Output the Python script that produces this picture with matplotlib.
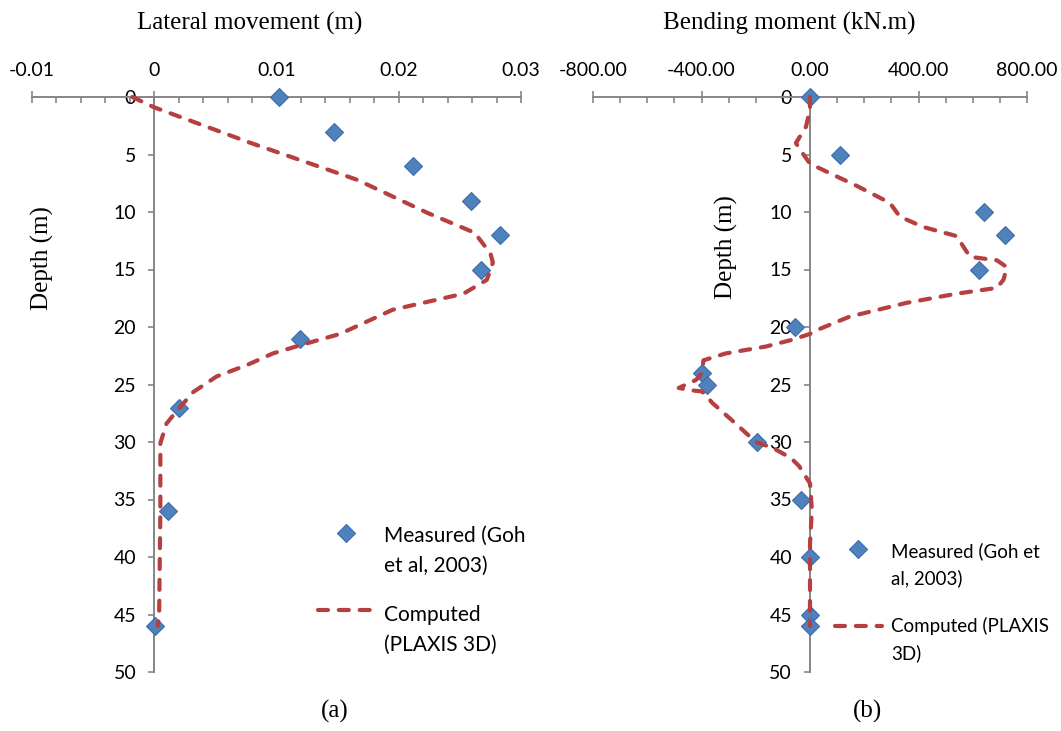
import matplotlib
matplotlib.use('Agg')
import matplotlib.pyplot as plt
from matplotlib.ticker import MultipleLocator
from matplotlib.transforms import Affine2D

# (a) lateral movement
lat_meas_depth = [0, 3, 6, 9, 12, 15, 21, 27, 36, 46]
lat_meas_val = [0.0102, 0.0147, 0.0212, 0.0259, 0.0283, 0.0267, 0.0119, 0.0020, 0.0011, 0.0001]

lat_comp_depth = [0, 0.9, 4.0, 7.2, 10.1, 11.8, 13.6, 14.4, 15.9, 17.1, 18.5, 20.6, 21.6,
                  22.3, 23.3, 24.3, 25.65, 27.1, 28.4, 30.1, 36.0, 45.0, 46.0]
lat_comp_val = [-0.0018, 0.0, 0.0079, 0.0166, 0.0224, 0.0262, 0.0275, 0.0277, 0.0272, 0.0253,
                0.0195, 0.0152, 0.0119, 0.0097, 0.0076, 0.0051, 0.0032, 0.0020, 0.0010,
                0.0005, 0.0005, 0.0004, 0.0003]

# (b) bending moment
bm_meas_depth = [0, 5, 10, 12, 15, 20, 24, 25, 30, 35, 40, 45, 46]
bm_meas_val = [0, 110, 640, 720, 624, -54, -398, -379, -194, -33, 0, 0, 0]

bm_comp_depth = [0, 1.1, 2.6, 4.0, 4.9, 5.8, 6.6, 7.7, 9.2, 10.4, 11.3, 12.1, 13.0, 13.9,
                 14.2, 14.8, 15.9, 16.6, 17.1, 17.9, 19.1, 20.3, 20.6, 21.1, 21.7, 22.3,
                 22.9, 24.0, 24.6, 25.3, 25.5, 25.6, 26.6, 28.4, 30.0, 30.5, 31.4, 32.1,
                 33.6, 35.9, 38.8, 45.0, 46.0]
bm_comp_val = [0, 0, -15, -52, -27, 0, 71, 170, 294, 331, 417, 541, 565, 590,
               689, 726, 713, 689, 541, 356, 146, 22, 0, -64, -163, -311,
               -393, -398, -420, -484, -440, -398, -360, -274, -200, -138, -70, -40,
               0, 7, 0, 0, 0]

xticks_a = [-0.01, 0, 0.01, 0.02, 0.03]
xlabels_a = ['-0.01', '0', '0.01', '0.02', '0.03']
xticks_b = [-800, -400, 0, 400, 800]
xlabels_b = ['-800.00', '-400.00', '0.00', '400.00', '800.00']
yticks = [0, 5, 10, 15, 20, 25, 30, 35, 40, 45, 50]

blue = '#4F81BD'
red = '#B5403F'
grey = '#868686'
sans = 'Lato'
serif = 'Liberation Serif'

W, H = 1061, 731
fig = plt.figure(figsize=(W / 100, H / 100), dpi=100)
ax1 = fig.add_axes([32 / W, 1 - 672 / H, 489 / W, 575 / H])
ax2 = fig.add_axes([593 / W, 1 - 672 / H, 434 / W, 575 / H])


def style(ax, xlim, xticks, xlabels, minor):
    ax.set_xlim(xlim)
    ax.set_ylim(50, 0)
    ax.spines['right'].set_visible(False)
    ax.spines['bottom'].set_visible(False)
    ax.spines['left'].set_position(('data', 0))
    for s in ['top', 'left']:
        ax.spines[s].set_color(grey)
        ax.spines[s].set_linewidth(1.4)
    ax.xaxis.tick_top()
    ax.set_xticks(xticks)
    ax.set_xticklabels(xlabels, fontfamily=sans, fontsize=14)
    ax.xaxis.set_minor_locator(MultipleLocator(minor))
    ax.tick_params(axis='x', which='major', direction='inout', length=8.7, width=1.2,
                   color=grey, pad=8.5)
    ax.tick_params(axis='x', which='minor', direction='in', length=4.3, width=1.2,
                   color=grey)
    ax.set_yticks(yticks)
    ax.set_yticklabels([str(v) for v in yticks], fontfamily=sans, fontsize=14)
    ax.tick_params(axis='y', direction='out', length=4, width=1.2, color=grey, pad=9)
    ax.patch.set_alpha(0)


style(ax1, (-0.01, 0.03), xticks_a, xlabels_a, 0.002)
style(ax2, (-800, 800), xticks_b, xlabels_b, 100)

for ax, md, mv, cd, cv in [(ax1, lat_meas_depth, lat_meas_val, lat_comp_depth, lat_comp_val),
                           (ax2, bm_meas_depth, bm_meas_val, bm_comp_depth, bm_comp_val)]:
    ax.plot(mv, md, linestyle='none', marker='D', markersize=9, color=blue,
            markeredgecolor='#3D6DA8', markeredgewidth=0.8, clip_on=False, zorder=3)
    ax.plot(cv, cd, linestyle='--', dashes=(2.4, 2.6), dash_capstyle='round',
            linewidth=3, color=red, clip_on=False, zorder=4)


def add_legend(ax, labels, x0, y0, size, hlen, spacing, lsp, shifts):
    leg = ax.legend(ax.get_lines(), labels, loc='upper left',
                    bbox_to_anchor=(x0 / W, 1 - y0 / H), bbox_transform=fig.transFigure,
                    frameon=False, borderpad=0, borderaxespad=0, handlelength=hlen,
                    handletextpad=0.5, labelspacing=spacing, numpoints=1,
                    prop={'family': sans, 'size': size})
    for t in leg.get_texts():
        t.set_linespacing(lsp)
    # excel puts the key next to the first line of a wrapped label
    for h, dy in zip(leg.legend_handles, shifts):
        h.set_transform(h.get_transform() + Affine2D().translate(0, dy))
    return leg


add_legend(ax1, ['Measured (Goh\net al, 2003)', 'Computed\n(PLAXIS 3D)'],
           318, 526, 15, 2.65, 1.4, 1.6, [19, 20])
add_legend(ax2, ['Measured (Goh et\nal, 2003)', 'Computed (PLAXIS\n3D)'],
           835, 542, 13.5, 2.5, 1.62, 1.62, [16, 14])

fig.text(250 / W, 1 - 23 / H, 'Lateral movement (m)', fontfamily=serif, fontsize=18,
         ha='center', va='center')
fig.text(789 / W, 1 - 23 / H, 'Bending moment (kN.m)', fontfamily=serif, fontsize=18,
         ha='center', va='center')
fig.text(42 / W, 1 - 258 / H, 'Depth (m)', fontfamily=serif, fontsize=18,
         ha='center', va='center', rotation=90)
fig.text(726 / W, 1 - 247 / H, 'Depth (m)', fontfamily=serif, fontsize=18,
         ha='center', va='center', rotation=90)
fig.text(335 / W, 1 - 711 / H, '(a)', fontfamily=serif, fontsize=18, ha='center', va='center')
fig.text(868 / W, 1 - 711 / H, '(b)', fontfamily=serif, fontsize=18, ha='center', va='center')

fig.savefig('out.png', dpi=100)
